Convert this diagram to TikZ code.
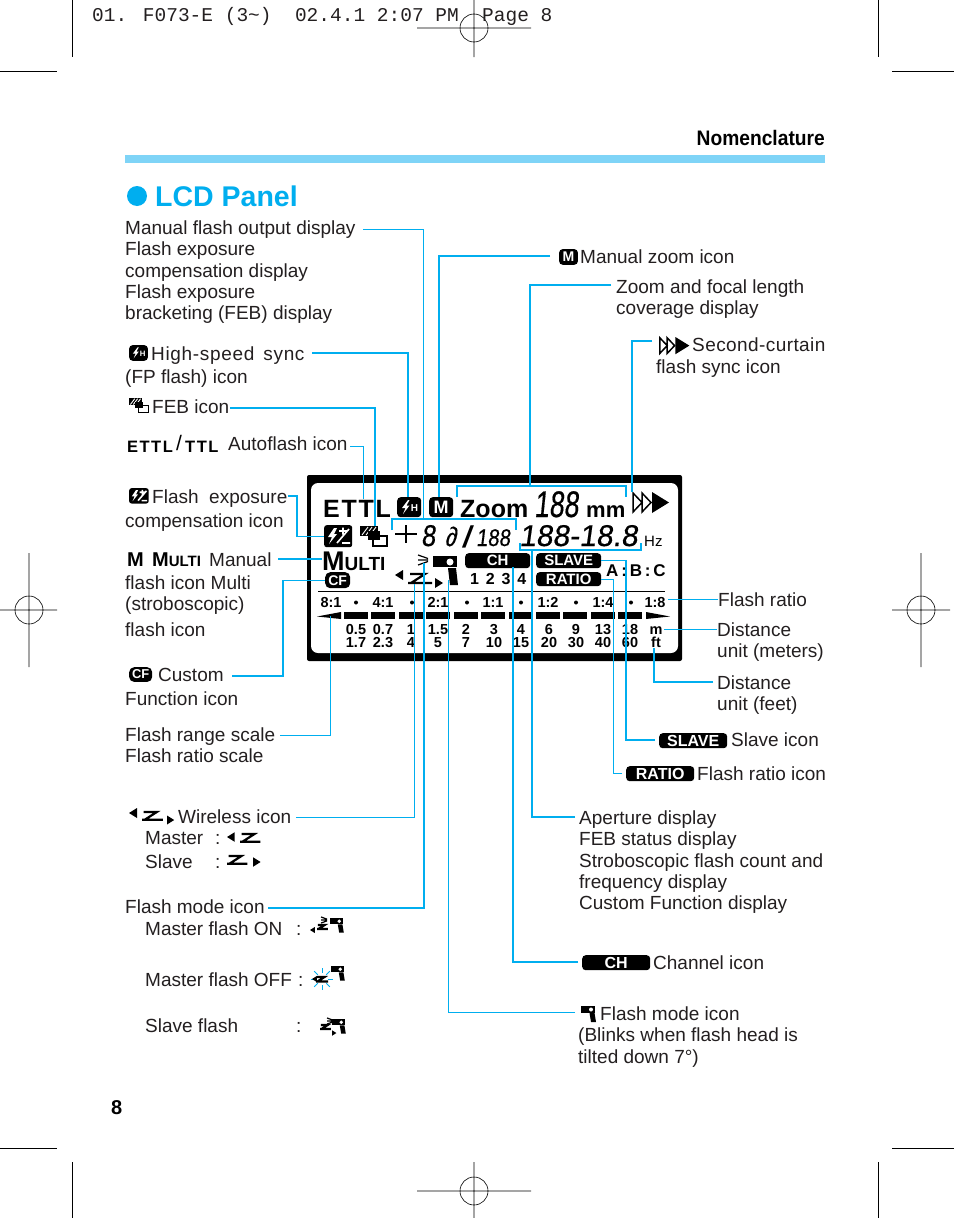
\documentclass[tikz,border=0pt]{standalone}
\usepackage{fontspec}
\setmainfont{Liberation Sans}
\newfontfamily\crtfont{Liberation Mono}
\newfontfamily\lcdf[FakeSlant=.14,FakeBold=.5]{Liberation Sans}
\usetikzlibrary{calc}
\definecolor{cy}{HTML}{00AEEF}
\definecolor{barcy}{HTML}{7FD4F7}
\definecolor{ink}{HTML}{231F20}
\newcommand\fsz[1]{\fontsize{#1}{#1}\selectfont}
\newcommand\bfsz[1]{\fontsize{#1}{#1}\selectfont\bfseries}
\newcommand\lab[4]{\node[lab] (#1) at (#2,#3-15) {\rule{0pt}{15pt}#4};}
\tikzset{
 lab/.style={anchor=north west,inner sep=0pt,align=left,text=ink,font=\fontsize{19}{21.4}\selectfont},
 lead/.style={draw=cy,line width=1.4pt},
 leadt/.style={draw=cy,line width=1pt},
 crop/.style={draw=black,line width=0.6pt},
 blackbar/.style={fill=black,text=white,rounded corners=3.5pt,inner sep=0pt,anchor=north west,font=\bfsz{15}},
 pnl/.style={inner sep=0pt,anchor=base,text=black,font=\bfsz{15}},
 dist/.style={inner sep=0pt,anchor=north,align=center,text=black,font=\fontsize{14.5}{13.2}\selectfont\bfseries},
 seg/.style={inner sep=0pt,anchor=base west,text=black},
 fpicon/.pic={
  \node[blackbar,minimum width=24pt,minimum height=20pt] (-b) at (0,0) {};
  \fill[white] (11,3)--(5,11)--(8.5,11)--(6,17)--(12.5,8.5)--(9.5,8.5)--(12.5,3)--cycle;
  \node[inner sep=0pt,text=white,font=\bfsz{10}] (-h) at (17.5,11) {H};},
 micon/.pic={
  \node[blackbar,minimum width=24pt,minimum height=20pt] (-b) at (0,0) {};
  \node[inner sep=0pt,text=white,font=\bfsz{18}] (-m) at (12,10) {M};},
 compicon/.pic={
  \node[blackbar,minimum width=28pt,minimum height=22pt,rounded corners=2.5pt] (-b) at (0,0) {};
  \fill[white] (10,3)--(4,12)--(8,12)--(5,19)--(13,9)--(10,9)--(13,3)--cycle;
  \draw[white,line width=1.6pt] (15,6)--(23,6) (19,2.5)--(19,9.5) (13,18)--(25,4) (18,18)--(26,18);},
 febicon/.pic={
  \fill[black] (0,0) rectangle (18,10);
  \draw[white,line width=.9pt] (2,9)--(8,1) (6,9)--(12,1) (10,9)--(16,1);
  \fill[black] (8,5) rectangle (20,14);
  \draw[black,line width=1.3pt] (13,10) rectangle (27,20);
  \fill[black] (12,9) rectangle (20,14);},
 cficon/.pic={
  \node[blackbar,minimum width=25pt,minimum height=16pt,rounded corners=5pt,font=\bfsz{14}] (-b) at (0,0) {CF};},
 curtain/.pic={
  \draw[black,line width=1.5pt,line join=miter] (1,1)--(10,10.5)--(1,20)--cycle (10,1)--(19,10.5)--(10,20)--cycle;
  \fill[black] (20,0)--(37,10.5)--(20,21)--cycle;},
 zz/.pic={\draw[black,line width=2.2pt] (2,0)--(17,0)--(3,9) (0,9)--(24,9);},
 trl/.pic={\fill[black] (0,0)--(8,-5)--(8,5)--cycle;},
 trr/.pic={\fill[black] (8,0)--(0,-5)--(0,5)--cycle;},
 rays/.pic={\draw[black,line width=1.2pt] (0,0)--(10,3.5) (0,5)--(10,5) (0,10)--(10,6.5);},
 flashhead/.pic={
  \fill[black] (0,0) rectangle (24,11);
  \fill[white] (17,6) circle (3.5);
  \fill[black] (15,12)--(23,12)--(25,29)--(17,29)--cycle;},
 headonly/.pic={
  \fill[black] (0,0) rectangle (14,7);
  \fill[white] (10,3.5) circle (2);
  \fill[black] (8.5,7)--(13.5,7)--(15,16)--(10,16)--cycle;},
}
\begin{document}
\begin{tikzpicture}[x=1pt,y=-1pt]
\useasboundingbox (0,0) rectangle (954,1218);
\fill[white] (0,0) rectangle (954,1218);
% crop marks
\draw[crop] (72,0)--(72,57) (878,0)--(878,57) (0,71)--(57,71) (892,71)--(954,71);
\draw[crop] (72,1162)--(72,1218) (878,1162)--(878,1218) (0,1148)--(57,1148) (892,1148)--(954,1148);
\draw[crop] (417,28)--(531,28) (474,0)--(474,57) (474,28) circle (14);
\draw[crop] (417,1191)--(531,1191) (474,1162)--(474,1218) (474,1191) circle (14);
\draw[crop] (0,610)--(57,610) (29,553)--(29,667) (29,610) circle (14);
\draw[crop] (892,610)--(950,610) (921,553)--(921,667) (921,610) circle (14);
\node[inner sep=0pt,anchor=base west,font=\crtfont\fsz{19.5},text=ink] (hdr) at (92,21) {01. F073-E (3\string~)\ \ 02.4.1 2:07 PM\ \ Page 8};
% heading
\node[inner sep=0pt,anchor=base east,xscale=.915,font=\bfsz{21},text=black] (nom) at (825,145) {Nomenclature};
\fill[barcy] (125,155) rectangle (825,163);
\fill[cy] (137,196) circle (10);
\node[inner sep=0pt,anchor=base west,font=\bfsz{28.5},text=cy] (title) at (155,206) {LCD Panel};
\node[inner sep=0pt,anchor=base west,font=\bfsz{20},text=black] (pg) at (111,1114) {8};
% panel
\fill[black,rounded corners=2pt] (307,475) rectangle (682,661);
\fill[white,rounded corners=7pt] (311,483) rectangle (678,653);
\node[seg,font=\bfsz{25}\addfontfeature{LetterSpace=7}] (pEttl) at (323,517) {ETTL};
\pic[] (pFP) at (397,497) {fpicon};
\pic[] (pM) at (429,497) {micon};
\node[seg,font=\bfsz{25}] (pZoom) at (460,517) {Zoom};
\node[seg,xscale=.72,font=\lcdf\fsz{37}] (pd1) at (534,517) {188};
\node[seg,font=\bfsz{22}] (pmm) at (586,517) {mm};
\pic[] (pCur) at (632,492) {curtain};
\pic[] (pComp) at (324,525) {compicon};
\pic[] (pFeb) at (360,526) {febicon};
\draw[black,line width=2.4pt] (395,534)--(417,534) (406,525)--(406,543);
\node[seg,xscale=.85,font=\lcdf\fsz{30}] (pd2) at (421,546) {8};
\node[seg,xscale=.85,font=\lcdf\fsz{27}] (pd3) at (445,546) {∂};
\node[seg,font=\bfseries\itshape\fsz{30}] (pSl) at (463,547) {/};
\node[seg,xscale=.85,font=\lcdf\fsz{24}] (pd4) at (476,546) {188};
\node[seg,font=\lcdf\fsz{30}] (pd5) at (519,546) {188-18.8};
\node[seg,font=\fsz{15}] (pHz) at (644,546) {Hz};
\node[seg] (pMulti) at (322,570) {{\bfsz{27}M}{\bfseries\fsz{19}ULTI}};
\pic[] (pCF) at (325,572) {cficon};
\pic at (418,555) {rays};
\pic at (433,556) {flashhead};
\pic at (395,575) {trl};
\pic at (408,574) {zz};
\pic at (435,583) {trr};
\node[blackbar,minimum width=65pt,minimum height=15pt] (pCH) at (465,553) {CH};
\node[blackbar,minimum width=65pt,minimum height=15pt] (pSlave) at (536,553) {SLAVE};
\node[blackbar,minimum width=65pt,minimum height=14pt] (pRatio) at (536,572) {RATIO};
\node[seg,font=\bfsz{16}] (pCnt) at (470,584) {1\hspace{6.8pt}2\hspace{6.8pt}3\hspace{6.8pt}4};
\node[seg,font=\bfsz{17}] (pABC) at (606,576) {A\,:\,B\,:\,C};
\draw[black,line width=.9pt] (318,591)--(665,591);
\foreach \n/\x/\t in {a/331/8:1,b/383/4:1,c/438/2:1,d/493/1:1,e/548/1:2,f/603/1:4,g/655/1:8}
  \node[pnl,font=\bfsz{14.5}] (r\n) at (\x,607) {\t};
\foreach \x in {356,412,467,521,576,631} \fill[black] (\x,602.5) circle (2);
\foreach \a/\b in {344/368,371/395,399/423,426/450,454/478,481/505,509/533,536/560,563/587,591/615,618/642}
  \fill[black] (\a,612) rectangle (\b,619);
\fill[black] (317,616.5)--(341,612)--(341,619)--cycle;
\fill[black] (646,612)--(670,616.5)--(646,619)--cycle;
\foreach \n/\x/\p/\q in {a/356/0.5/1.7,b/383/0.7/2.3,c/411/1/4,d/438/1.5/5,e/466/2/7,f/494/3/10,g/521/4/15,h/549/6/20,i/576/9/30,j/603/13/40,k/630/18/60,m/656/m/ft}
  \node[dist] (u\n) at (\x,623.5) {\rule{0pt}{11pt}\p\\\q};
% left labels
\lab{lMan}{125}{234}{Manual flash output display\\Flash exposure\\compensation display\\Flash exposure\\bracketing (FEB) display}
\pic[scale=.78,transform shape] (iFP) at (129,345) {fpicon};
\lab{lHS}{125}{360}{\hspace*{26pt}{\addfontfeature{LetterSpace=3.5}High-speed\ \,sync}\\[1.6pt](FP flash) icon}
\pic[scale=.72,transform shape] (iFeb) at (129,398) {febicon};
\lab{lFeb}{152}{413}{FEB icon}
\node[seg,font=\bfsz{16.5}\addfontfeature{LetterSpace=9}] (iEt) at (127,452) {ETTL};
\node[seg,font=\fsz{21}] (iSl) at (176,450) {/};
\node[seg,font=\bfsz{16.5}\addfontfeature{LetterSpace=9}] (iTt) at (185,452) {TTL};
\lab{lAuto}{228}{450}{Autoflash icon}
\pic[scale=.7,transform shape] (iComp) at (129,488) {compicon};
\lab{lExp}{125}{503}{\hspace*{27pt}Flash\ \ exposure\\[2.6pt]compensation icon}
\node[seg] (iMm) at (127,566) {{\bfsz{20}M}};
\node[seg] (iMu) at (152,566) {{\bfsz{20}M}{\bfseries\fsz{15}ULTI}};
\lab{lMul}{125}{566}{\hspace*{84pt}Manual\\[1.6pt]flash icon Multi\\(stroboscopic)\\[4.6pt]flash icon}
\pic[scale=.92,transform shape] (iCF) at (129,667) {cficon};
\lab{lCF}{125}{681}{\hspace*{33pt}Custom\\[2.6pt]Function icon}
\lab{lRan}{125}{741}{Flash range scale\\Flash ratio scale}
\pic at (129,813) {trl};
\pic[scale=.87,transform shape] at (142,812) {zz};
\pic[scale=.9,transform shape] at (167,820) {trr};
\lab{lWir}{178}{823}{Wireless icon}
\lab{lMS}{145}{844}{\makebox[70pt][l]{Master}:\\[2.5pt]\makebox[70pt][l]{Slave}:}
\pic[scale=.95,transform shape] at (227,837) {trl};
\pic[scale=.85,transform shape] at (240,834) {zz};
\pic[scale=.85,transform shape] at (227,856) {zz};
\pic[scale=.95,transform shape] at (253,862) {trr};
\lab{lFm}{125}{913}{Flash mode icon}
\lab{lOn}{145}{935}{\makebox[151pt][l]{Master flash ON}:}
\lab{lOff}{145}{986}{\makebox[153pt][l]{Master flash OFF}:}
\lab{lSl}{145}{1032}{\makebox[151pt][l]{Slave flash}:}
% small flash icons
\pic[scale=.6,transform shape] at (310,930) {trl};
\pic[scale=.45,transform shape] at (317,925) {zz};
\pic[scale=.6,transform shape] at (321,917) {rays};
\pic[scale=.92,transform shape] at (330,918) {headonly};
\foreach \a in {0,45,...,315}
  \draw[cy,line width=.9pt] ($(322,979)+(\a:6)$)--($(322,979)+(\a:11)$);
\pic[scale=.6,transform shape] at (312,979) {trl};
\pic[scale=.5,transform shape] at (316,977) {zz};
\pic[scale=.92,transform shape] at (331,966) {headonly};
\pic[scale=.45,transform shape] at (320,1025) {zz};
\pic[scale=.55,transform shape] at (332,1033) {trr};
\pic[scale=.6,transform shape] at (327,1018) {rays};
\pic[scale=.92,transform shape] at (332,1019) {headonly};
% right labels
\pic[scale=.78,transform shape] (iM) at (559,249) {micon};
\lab{rZm}{580}{263}{Manual zoom icon}
\lab{rFoc}{616}{293}{Zoom and focal length\\coverage display}
\pic[scale=.82,transform shape] (iCur) at (659,337) {curtain};
\lab{rCur}{656}{351}{\hspace*{36pt}{\addfontfeature{LetterSpace=2.2}Second-curtain}\\[1.2pt]flash sync icon}
\lab{rRat}{718}{606}{Flash ratio}
\lab{rMet}{717}{636}{Distance\\unit (meters)}
\lab{rFt}{717}{689}{Distance\\unit (feet)}
\node[blackbar,minimum width=68pt,minimum height=15pt,font=\bfsz{16}] (iSlave) at (659,733) {SLAVE};
\lab{rSl}{731}{746}{Slave icon}
\node[blackbar,minimum width=68pt,minimum height=15pt,font=\bfsz{16}] (iRatio) at (626,766) {RATIO};
\lab{rRI}{697}{780}{Flash ratio icon}
\lab{rAp}{579}{824}{Aperture display\\FEB status display\\Stroboscopic flash count and\\frequency display\\Custom Function display}
\node[blackbar,minimum width=68pt,minimum height=15pt,font=\bfsz{16}] (iCH) at (582,955) {CH};
\lab{rCH}{653}{969}{Channel icon}
\pic[transform shape] (iHd) at (581,1006) {headonly};
\lab{rFm}{578}{1020}{\hspace*{22pt}Flash mode icon\\(Blinks when flash head is\\tilted down 7°)}
% connector free ends
\coordinate (sMan) at (363,229);
\coordinate (bMan) at (423,519);
\coordinate (sHS) at (312,353);
\coordinate (eHS) at (408,497);
\coordinate (sFeb) at (230,408);
\coordinate (eFeb) at (375,526);
\coordinate (sAuto) at (350,446);
\coordinate (eAuto) at (363,499);
\coordinate (sExp) at (288,496);
\coordinate (sMul) at (278,559);
\coordinate (sCF) at (232,676);
\coordinate (sRan) at (280,735);
\coordinate (eRan) at (330,616);
\coordinate (sWir) at (296,817);
\coordinate (eWir) at (414,584);
\coordinate (sFm) at (268,908);
\coordinate (eFm) at (424,563);
\coordinate (sZm) at (550,256);
\coordinate (eZm) at (439,497);
\coordinate (sFoc) at (611,285);
\coordinate (bFoc) at (530,486);
\coordinate (sCur) at (652,341);
\coordinate (eCur) at (632,492);
\coordinate (sAp) at (575,817);
\coordinate (bAp) at (532,550);
\coordinate (sCH) at (578,962);
\coordinate (eCH) at (513,567);
\coordinate (sHd) at (575,1012);
\coordinate (eHd) at (448,580);
\coordinate (eRat) at (668,599);
\coordinate (eMet) at (664,629);
\coordinate (eFt) at (654,648);
\coordinate (sSl) at (655,740);
\coordinate (sRI) at (622,773);
% connectors
\draw[leadt] (sMan) -| (bMan);
\draw[lead] (392,530)--(392,519)--(516,519)--(516,530);
\draw[lead] (sHS) -| (eHS);
\draw[lead] (sFeb) -| (eFeb);
\draw[leadt] (sAuto) -| (eAuto);
\draw[lead] (sExp) -- (297,496) |- (pComp-b.west);
\draw[lead] (sMul) -- (pMulti.west |- sMul);
\draw[lead] (sCF) -- (283,676) |- (pCF-b.west);
\draw[leadt] (sRan) -| (eRan);
\draw[leadt] (sWir) -| (eWir);
\draw[lead] (sFm) -| (eFm);
\draw[lead] (sZm) -| (eZm);
\draw[lead] (sFoc) -| (bFoc);
\draw[lead] (457,497)--(457,486)--(626,486)--(626,497);
\draw[lead] (sCur) -| (eCur);
\draw[lead] (sAp) -| (bAp);
\draw[lead] (520,543)--(520,550)--(641,550)--(641,543);
\draw[lead] (sCH) -| (eCH);
\draw[leadt] (sHd) -| (eHd);
\draw[leadt] (rRat.west |- eRat) -- (eRat);
\draw[leadt] (rMet.west |- eMet) -- (eMet);
\draw[lead] (713,682) -| (eFt);
\draw[lead] (sSl) -- (626,740) |- (pSlave.east);
\draw[leadt] (sRI) -- (613,773) |- (pRatio.east);
\end{tikzpicture}
\end{document}
